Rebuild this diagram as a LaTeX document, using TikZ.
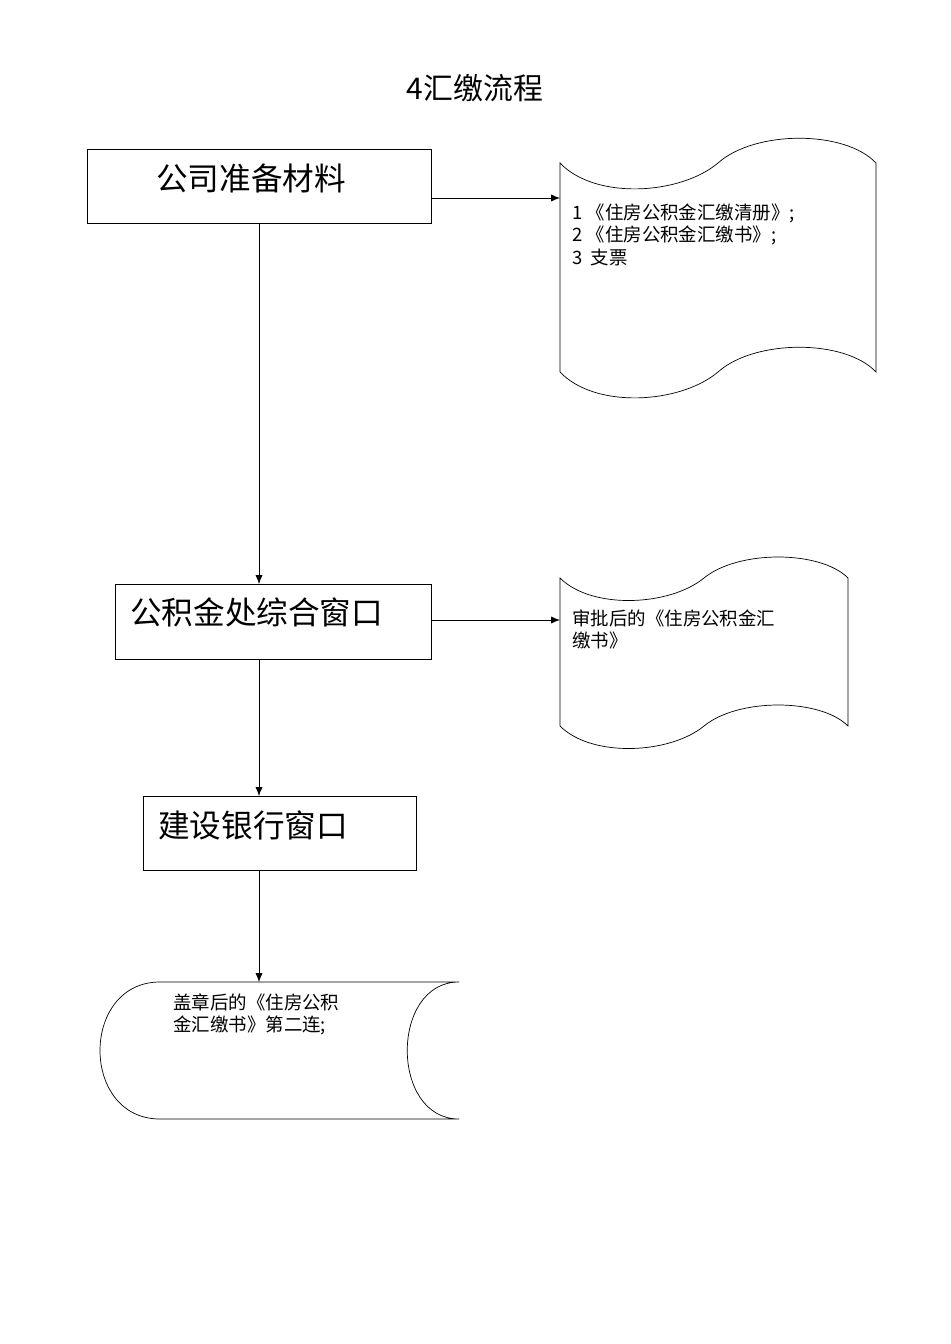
\documentclass[tikz,border=0pt]{standalone}
\usepackage{fontspec}
\setmainfont{Noto Sans CJK SC}
\usetikzlibrary{arrows.meta}
\begin{document}
\begin{tikzpicture}[x=0.02cm,y=-0.02cm,
  box/.style={draw,thick,minimum height=0pt},
  big/.style={font=\fontsize{18}{20}\selectfont,anchor=west},
  small/.style={font=\fontsize{10.5}{13}\selectfont,anchor=north west,align=left,inner sep=0pt},
  arr/.style={-{Latex[length=5pt,width=4pt]},thin}]
\useasboundingbox (0,0) rectangle (950,1344);
\node[font=\fontsize{17}{20}\selectfont] (title) at (475,88) {4汇缴流程};
% boxes
\draw (87,149) rectangle (431,223);
\coordinate (b1) at (259,223);
\node[big] (t1) at (150,178) {公司准备材料};
\draw (115,584) rectangle (431,659);
\node[big] (t2) at (124,612) {公积金处综合窗口};
\draw (143,796) rectangle (416,870);
\node[big] (t3) at (152,825) {建设银行窗口};
\coordinate (b1r) at (431,198);
\coordinate (tp1) at (560,198);
\coordinate (b2t) at (259,584);
\coordinate (b2b) at (259,659);
\coordinate (b2r) at (431,620);
\coordinate (tp2) at (560,620);
\coordinate (b3t) at (259,796);
\coordinate (b3b) at (259,870);
\coordinate (sd) at (259,982);
\draw[arr] (b1r) -- (tp1);
\draw[arr] (b1) -- (b2t);
\draw[arr] (b2r) -- (tp2);
\draw[arr] (b2b) -- (b3t);
\draw[arr] (b3b) -- (sd);
% tape 1
\draw (560,163) .. controls (595,200) and (680,195) .. (718,163) .. controls (755,130) and (845,130) .. (876,163)
  -- (876,372) .. controls (845,339) and (755,339) .. (718,372) .. controls (680,404) and (595,409) .. (560,372) -- cycle;
\node[small] (x1) at (572,203) {1 《住房公积金汇缴清册》;\\2 《住房公积金汇缴书》;\\3\ \ 支票};
% tape 2
\draw (560,578) .. controls (592,610) and (670,606) .. (704,578) .. controls (738,550) and (820,550) .. (848,578)
  -- (848,726) .. controls (820,698) and (738,698) .. (704,726) .. controls (670,754) and (592,758) .. (560,726) -- cycle;
\node[small] (x2) at (572,609) {审批后的《住房公积金汇\\缴书》};
% stored data
\draw (459,982) -- (160,982) .. controls (80,982) and (80,1119) .. (160,1119) -- (459,1119)
  .. controls (390,1119) and (390,982) .. (459,982);
\node[small] (x3) at (173,993) {盖章后的《住房公积\\金汇缴书》第二连;};
\end{tikzpicture}
\end{document}
